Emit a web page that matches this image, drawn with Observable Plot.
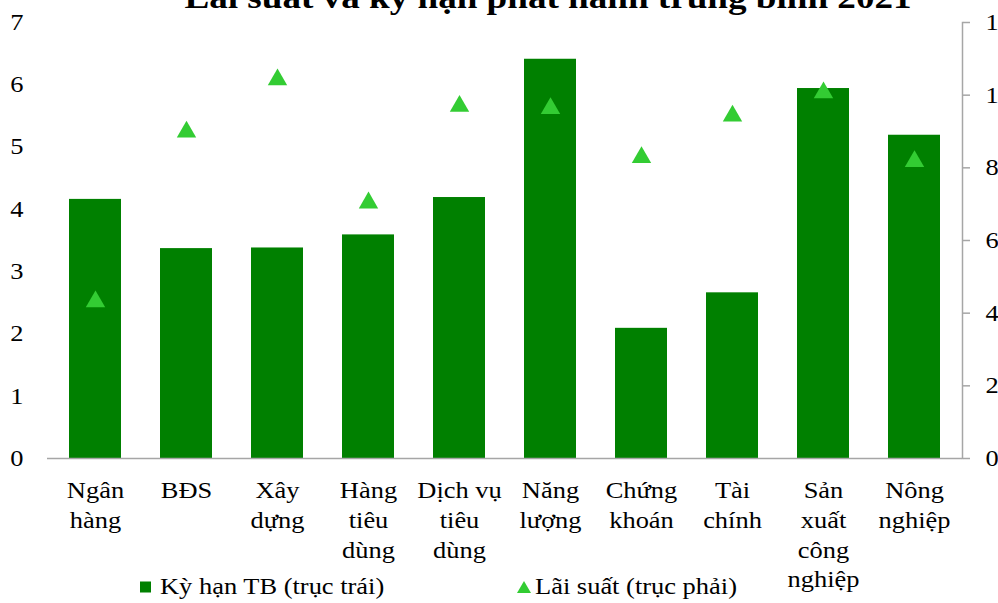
<!DOCTYPE html>
<html lang="vi">
<head>
<meta charset="utf-8">
<script src="https://cdn.jsdelivr.net/npm/d3@7"></script>
<script src="https://cdn.jsdelivr.net/npm/@observablehq/plot@0.6"></script>
<style>
  html, body { margin: 0; padding: 0; background: #fff; }
  #wrap { position: relative; width: 998px; height: 603px; overflow: hidden;
          font-family: "Liberation Serif", "Times New Roman", serif; color: #000; }
  #title { position: absolute; left: 0; width: 1096px; top: -19px; text-align: center;
           font-weight: bold; font-size: 32px; line-height: 32px; white-space: nowrap;
           transform: scaleX(1.16); transform-origin: 548px 0; }
  #legend { position: absolute; top: 572px; left: 0; width: 998px; height: 29px;
            font-size: 23px; line-height: 29px; }
  #legend .item { position: absolute; top: 0; height: 29px; display: flex; align-items: center; white-space: nowrap; }
  #legend .item span { display: inline-block; transform: scaleX(1.15); transform-origin: 0 50%; }
</style>
</head>
<body>
<div id="wrap">
  <div id="chart"></div>
  <div id="title">Lãi suất và kỳ hạn phát hành trung bình 2021</div>
  <div id="legend"></div>
</div>
<script>
// Sectors (x axis), with the line breaks used under each bar
const sectors = ["Ngân hàng", "BĐS", "Xây dựng", "Hàng tiêu dùng", "Dịch vụ tiêu dùng",
  "Năng lượng", "Chứng khoán", "Tài chính", "Sản xuất công nghiệp", "Nông nghiệp"];
const sectorLabels = ["Ngân\nhàng", "BĐS", "Xây\ndựng", "Hàng\ntiêu\ndùng", "Dịch vụ\ntiêu\ndùng",
  "Năng\nlượng", "Chứng\nkhoán", "Tài\nchính", "Sản\nxuất\ncông\nnghiệp", "Nông\nnghiệp"];

// Average issuance tenor (years, left axis)
const tenor = [4.16, 3.37, 3.38, 3.59, 4.19, 6.41, 2.09, 2.66, 5.94, 5.19];
// Average coupon rate (%, right axis)
const rate = [4.40, 9.07, 10.51, 7.12, 9.78, 9.72, 8.37, 9.51, 10.15, 8.26];

// Axis ticks
const leftTicks = [0, 1, 2, 3, 4, 5, 6, 7];
const rightTicks = [0, 2, 4, 6, 8, 10, 12];
const leftMax = 7, rightMax = 12;

const barColor = "#008000";
const markerColor = "#33cc33";
const axisGray = "#a6a6a6";
const font = "'Liberation Serif', 'Times New Roman', serif";
const textStretch = 1.15; // slightly wide lettering

// Right-axis values are mapped onto the left scale (0–12 ↔ 0–7)
const toLeft = v => v * leftMax / rightMax;

const rows = sectors.map((s, i) => ({sector: s, tenor: tenor[i], rate: rate[i]}));

const chart = Plot.plot({
  width: 998,
  height: 603,
  marginTop: 22,
  marginBottom: 145,
  marginLeft: 47,
  marginRight: 36,
  style: {fontFamily: font, fontSize: "23px", color: "#000", background: "#fff"},
  x: {domain: sectors, paddingInner: 0.43, paddingOuter: 0.215, axis: null},
  y: {domain: [0, leftMax], axis: null},
  marks: [
    Plot.barY(rows, {x: "sector", y: "tenor", fill: barColor}),
    Plot.ruleY([0], {stroke: axisGray, strokeWidth: 1.5}),
    Plot.frame({anchor: "right", stroke: axisGray, strokeWidth: 1.5}),
    // triangle centred on its bounding box rather than its centroid
    Plot.dot(rows, {x: "sector", y: d => toLeft(d.rate), symbol: "triangle", r: 7.2,
                    fill: markerColor, stroke: "none", dy: 3}),
    Plot.axisY(leftTicks, {anchor: "left", tickSize: 0, tickPadding: 24, fontSize: 23,
                           fill: "#000", tickFormat: d => String(d), label: null}),
    Plot.axisY(rightTicks.map(toLeft), {anchor: "right", tickSize: 7, tickPadding: 16,
                           stroke: axisGray, strokeWidth: 1.5, fill: "#000", fontSize: 23,
                           tickFormat: d => String(Math.round(d * rightMax / leftMax)), label: null}),
    Plot.axisX({tickSize: 0, tickPadding: 18, fontSize: 23, lineHeight: 1.3, fill: "#000",
                tickFormat: d => sectorLabels[sectors.indexOf(d)], label: null})
  ]
});

// widen every label about its own anchor point
for (const t of chart.querySelectorAll("text")) {
  const tr = t.getAttribute("transform");
  if (tr) {
    t.setAttribute("transform", `${tr} scale(${textStretch},1)`);
  } else {
    const x = +t.getAttribute("x") || 0, y = +t.getAttribute("y") || 0;
    t.setAttribute("transform", `translate(${x},${y}) scale(${textStretch},1) translate(${-x},${-y})`);
  }
}
document.getElementById("chart").appendChild(chart);

// Legend row under the chart
const legend = document.getElementById("legend");
const items = [
  {label: "Kỳ hạn TB (trục trái)", left: 140, gap: 9,
   svg: `<svg width="11" height="12"><rect y="0.5" width="11" height="11" fill="${barColor}"/></svg>`},
  {label: "Lãi suất (trục phải)", left: 517, gap: 4,
   svg: `<svg width="14" height="12"><path d="M7 0L14 12H0Z" fill="${markerColor}"/></svg>`}
];
for (const it of items) {
  const el = document.createElement("div");
  el.className = "item";
  el.style.left = it.left + "px";
  el.innerHTML = it.svg + `<span style="margin-left:${it.gap}px">${it.label}</span>`;
  legend.appendChild(el);
}
</script>
</body>
</html>
